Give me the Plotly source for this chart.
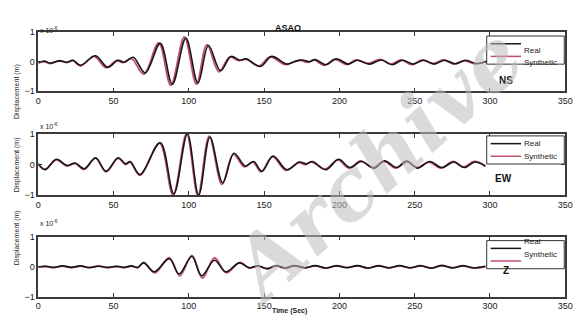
import plotly.graph_objects as go

# ---- data: extrema (time s, displacement x1e-6 m) ----
ns_real_t = [0, 4, 8, 14, 19, 23, 28, 38, 46, 53, 57, 63, 71, 81, 89, 98, 106, 113, 121, 128, 134, 138, 147.5, 155, 165, 170, 175, 180, 184, 191, 198, 206, 212, 220, 228, 235, 242, 249, 256, 263, 270, 277, 284, 291, 298]
ns_real_v = [-0.03, 0.02, -0.05, 0.03, -0.02, 0.05, -0.12, 0.2, -0.19, 0.05, -0.02, 0.15, -0.38, 0.62, -0.76, 0.8, -0.72, 0.55, -0.3, 0.18, 0.05, 0.1, -0.16, 0.18, -0.08, 0.0, 0.06, 0.0, 0.07, -0.1, 0.1, -0.08, 0.05, -0.08, 0.06, -0.1, 0.05, -0.08, 0.05, -0.08, 0.05, -0.07, 0.05, -0.06, 0.02]
ns_syn_t = [0, 4, 8, 14, 19, 23, 28, 37, 45, 52, 56, 62, 70, 80, 88, 97, 105, 112, 120, 127, 133, 138, 146.5, 154, 164, 169, 174, 179, 183, 190, 197, 205, 211, 219, 227, 234, 241, 248, 255, 262, 269, 276, 283, 290, 298]
ns_syn_v = [-0.05, 0.0, -0.06, 0.04, -0.03, 0.04, -0.14, 0.18, -0.2, 0.04, -0.03, 0.1, -0.42, 0.64, -0.8, 0.84, -0.76, 0.58, -0.34, 0.16, 0.04, 0.08, -0.14, 0.16, -0.1, -0.02, 0.05, -0.02, 0.06, -0.12, 0.08, -0.1, 0.06, -0.06, 0.08, -0.08, 0.06, -0.1, 0.06, -0.06, 0.06, -0.08, 0.04, -0.07, 0.02]

ew_real_t = [0, 4.5, 12, 19, 24.5, 30.5, 38, 45, 53, 58, 61, 67.5, 81, 90, 99, 106.5, 114, 122.5, 130, 137.5, 143, 148.5, 156, 165, 173.5, 178, 182, 191, 199.5, 207, 214.5, 223, 230, 238, 245, 252, 260, 268, 276, 283, 290, 297]
ew_real_v = [0.03, -0.17, 0.17, -0.03, 0.05, -0.14, 0.22, -0.22, 0.22, 0.02, 0.1, -0.33, 0.71, -0.96, 1.0, -1.0, 0.9, -0.6, 0.37, -0.05, 0.1, -0.22, 0.28, -0.17, 0.08, 0.02, 0.1, -0.17, 0.17, -0.1, 0.1, -0.12, 0.12, -0.1, 0.1, -0.12, 0.1, -0.1, 0.08, -0.1, 0.08, -0.06]
ew_syn_t = [0, 4.5, 12, 19, 24.5, 30.5, 38, 45, 53, 58, 61, 67.5, 80.5, 89.5, 98.5, 106, 113.5, 122, 129.5, 137, 142.5, 148, 155.5, 164.5, 173, 177.5, 181.5, 190.5, 199, 206.5, 214, 222.5, 229.5, 237.5, 244.5, 251.5, 259.5, 267.5, 275.5, 282.5, 289.5, 297]
ew_syn_v = [0.0, -0.15, 0.15, -0.05, 0.03, -0.16, 0.2, -0.24, 0.2, 0.0, 0.08, -0.35, 0.7, -1.0, 1.02, -1.02, 0.93, -0.65, 0.33, -0.08, 0.08, -0.24, 0.26, -0.19, 0.06, 0.0, 0.08, -0.15, 0.15, -0.12, 0.12, -0.1, 0.1, -0.12, 0.12, -0.1, 0.08, -0.12, 0.1, -0.08, 0.1, -0.04]

z_real_t = [0, 5, 10, 16, 22, 28, 34, 40, 46, 52, 57, 62, 66, 70, 77, 87, 93.5, 102, 108.5, 117, 124.5, 133.5, 140, 146, 152, 158, 164, 170, 177, 184, 191, 198, 205, 212, 219, 226, 233, 240, 247, 254, 261, 268, 275, 282, 289, 297]
z_real_v = [0.0, 0.02, -0.02, 0.03, -0.02, 0.03, -0.03, 0.02, -0.02, 0.02, -0.02, 0.03, -0.02, 0.13, -0.17, 0.27, -0.24, 0.34, -0.3, 0.22, -0.17, 0.13, -0.03, 0.03, -0.06, 0.04, -0.04, 0.04, -0.03, 0.04, -0.04, 0.03, -0.03, 0.04, -0.04, 0.03, -0.03, 0.04, -0.03, 0.04, -0.05, 0.04, -0.04, 0.03, -0.03, 0.02]
z_syn_t = [0, 5, 10, 16, 22, 28, 34, 40, 46, 52, 57, 62, 66, 70, 77.5, 87, 94, 102, 109, 117, 125, 134, 140, 146, 152, 158, 164, 170, 177, 184, 191, 198, 205, 212, 219, 226, 233, 240, 247, 254, 261, 268, 275, 282, 289, 297]
z_syn_v = [-0.01, 0.01, -0.03, 0.02, -0.03, 0.02, -0.02, 0.03, -0.03, 0.01, -0.03, 0.02, -0.03, 0.15, -0.2, 0.3, -0.3, 0.38, -0.38, 0.3, -0.2, 0.15, -0.04, 0.02, -0.07, 0.03, -0.05, 0.03, -0.04, 0.03, -0.05, 0.04, -0.02, 0.03, -0.05, 0.04, -0.04, 0.03, -0.04, 0.03, -0.04, 0.05, -0.03, 0.04, -0.04, 0.01]

x_ticks = [0, 50, 100, 150, 200, 250, 300, 350]
y_ticks = [-1, 0, 1]
series_names = ["Real", "Synthetic"]
panel_labels = ["NS", "EW", "Z"]
title_text = "ASAO"
y_title = "Displacement (m)"
x_title = "Time (Sec)"
exp_text = "x 10<sup>-6</sup>"

W, H = 584, 329
REAL_C = "#161616"
SYN_C = "#c0506a"
FONT = "Liberation Sans, Arial"

panels = [
    (ns_real_t, ns_real_v, ns_syn_t, ns_syn_v),
    (ew_real_t, ew_real_v, ew_syn_t, ew_syn_v),
    (z_real_t, z_real_v, z_syn_t, z_syn_v),
]
boxes = [(28, 89), (133, 196), (239, 301)]
legend_tops = [32, 135, 243]
label_pos = [(522, 70), (521, 179), (518, 282)]
x_left, x_right = 36, 573


def px(x):
    return x / W


def py(y):
    return 1 - y / H


fig = go.Figure()
for i, (rt, rv, st, sv) in enumerate(panels):
    ax = "" if i == 0 else str(i + 1)
    fig.add_trace(go.Scatter(x=st, y=sv, mode="lines", name=series_names[1],
                             line=dict(color=SYN_C, width=1.8, shape="spline", smoothing=1.0),
                             xaxis="x" + ax, yaxis="y" + ax, showlegend=False))
    fig.add_trace(go.Scatter(x=rt, y=rv, mode="lines", name=series_names[0],
                             line=dict(color=REAL_C, width=1.6, shape="spline", smoothing=1.0),
                             xaxis="x" + ax, yaxis="y" + ax, showlegend=False))

layout = dict(width=W, height=H, margin=dict(l=0, r=0, t=0, b=0),
              paper_bgcolor="white", plot_bgcolor="white", showlegend=False)
axis_common = dict(showgrid=False, zeroline=False, showline=True, linecolor="#3a3a3a",
                   linewidth=1.5, mirror="ticks", ticks="inside", ticklen=4,
                   tickcolor="#3a3a3a", tickwidth=1.2,
                   tickfont=dict(family=FONT, size=9, color="#1a1a1a"))
for i, (top, bot) in enumerate(boxes):
    ax = "" if i == 0 else str(i + 1)
    layout["xaxis" + ax] = dict(axis_common, domain=[px(x_left), px(x_right)], range=[0, 350],
                                tickvals=x_ticks, anchor="y" + ax)
    layout["yaxis" + ax] = dict(axis_common, domain=[py(bot), py(top)], range=[-1, 1],
                                tickvals=y_ticks, anchor="x" + ax)
fig.update_layout(**layout)

ann = []
shapes = []
for i, (top, bot) in enumerate(boxes):
    ann.append(dict(x=px(8), y=py((top + bot) / 2), xref="paper", yref="paper",
                    text=y_title, textangle=-90, showarrow=False,
                    font=dict(family=FONT, size=7, color="#222")))
    ann.append(dict(x=px(36), y=py(top - 8), xref="paper", yref="paper", xanchor="left",
                    text=exp_text, showarrow=False,
                    font=dict(family=FONT, size=7, color="#222")))
    lx, ly = label_pos[i]
    ann.append(dict(x=px(lx), y=py(ly), xref="paper", yref="paper",
                    text="<b>" + panel_labels[i] + "</b>",
                    showarrow=False, font=dict(family=FONT, size=10, color="#111")))
    lt = legend_tops[i]
    shapes.append(dict(type="rect", xref="paper", yref="paper",
                       x0=px(493), x1=px(572), y0=py(lt + 29), y1=py(lt),
                       line=dict(color="#333", width=1), fillcolor="white", layer="above"))
    for k, (nm, col) in enumerate(zip(series_names, [REAL_C, SYN_C])):
        yy = lt + 8 + 13 * k
        shapes.append(dict(type="line", xref="paper", yref="paper",
                           x0=px(497), x1=px(528), y0=py(yy), y1=py(yy),
                           line=dict(color=col, width=1.5), layer="above"))
        ann.append(dict(x=px(529), y=py(yy), xref="paper", yref="paper", xanchor="left",
                        text=nm, showarrow=False,
                        font=dict(family=FONT, size=8, color="#222")))
ann.append(dict(x=px(290), y=py(16), xref="paper", yref="paper", text="<b>" + title_text + "</b>",
                showarrow=False, font=dict(family=FONT, size=9, color="#111")))
ann.append(dict(x=px(292), y=py(322), xref="paper", yref="paper", text="<b>" + x_title + "</b>",
                showarrow=False, font=dict(family=FONT, size=7, color="#222")))
# watermark
ann.append(dict(x=px(380), y=py(165), xref="paper", yref="paper", text="<b><i>Archive</i></b>",
                textangle=-42, showarrow=False, opacity=0.55,
                font=dict(family="DejaVu Serif", size=84, color="#bdbdbd")))
fig.update_layout(annotations=ann, shapes=shapes)

fig.write_html("out.html")
